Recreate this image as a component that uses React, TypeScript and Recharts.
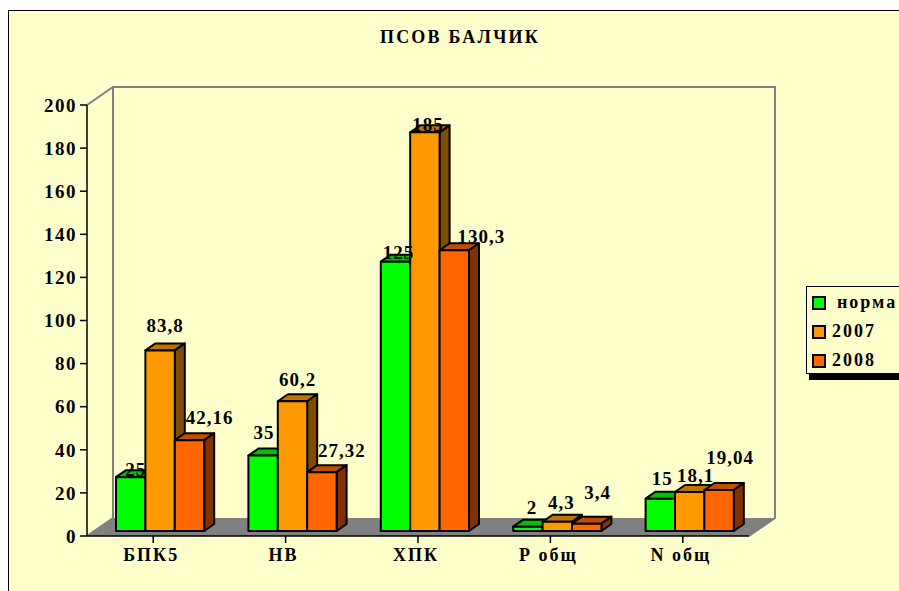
import { BarChart, Bar, XAxis, YAxis, LabelList, Legend } from 'recharts';

const categories = ['БПК5', 'НВ', 'ХПК', 'Р общ', 'N общ'];
const norma = [25, 35, 125, 2, 15];
const y2007 = [83.8, 60.2, 185, 4.3, 18.1];
const y2008 = [42.16, 27.32, 130.3, 3.4, 19.04];
const yTicks = [0, 20, 40, 60, 80, 100, 120, 140, 160, 180, 200];

const chartData = categories.map((name, i) => ({
  name,
  norma: norma[i],
  y2007: y2007[i],
  y2008: y2008[i],
}));

const FONT = '"Liberation Serif", "Times New Roman", serif';
const LEFT = 87;
const RIGHT = 749;
const TOP = 105;
const BOTTOM = 536;
const DEPTH_X = 26;
const DEPTH_Y = 18;
// bars stand a little way back on the floor
const BAR_DX = 7;
const BAR_DY = -5;
const BAR_DEPTH_X = 10;
const BAR_DEPTH_Y = 7;
const LEGEND_WIDTH = 93;

// hand placed data labels in the original: [dx, dy] from the bar's top centre
const nudgeNorma = [[5, -9], [1, -24], [3, -10], [4, -20], [2, -21]];
const nudge2007 = [[5, -26], [5, -23], [3, -9], [4, -20], [6, -17]];
const nudge2008 = [[20, -24], [20, -23], [27, -15], [11, -32], [11, -33]];

function Walls() {
  const wall = '#808080';
  return (
    <g>
      <polygon
        points={`${LEFT},${BOTTOM} ${LEFT + DEPTH_X},${BOTTOM - DEPTH_Y} ${RIGHT + DEPTH_X},${BOTTOM - DEPTH_Y} ${RIGHT},${BOTTOM}`}
        fill={wall}
      />
      <polyline
        points={`${LEFT},${TOP} ${LEFT + DEPTH_X},${TOP - DEPTH_Y} ${RIGHT + DEPTH_X},${TOP - DEPTH_Y} ${RIGHT + DEPTH_X},${BOTTOM - DEPTH_Y} ${RIGHT},${BOTTOM}`}
        fill="none"
        stroke={wall}
        strokeWidth={2}
      />
      <line x1={LEFT + DEPTH_X} y1={TOP - DEPTH_Y} x2={LEFT + DEPTH_X} y2={BOTTOM - DEPTH_Y} stroke={wall} strokeWidth={2} />
      <line x1={LEFT} y1={BOTTOM} x2={LEFT + DEPTH_X} y2={BOTTOM - DEPTH_Y} stroke={wall} strokeWidth={2} />
    </g>
  );
}

function box3d(front: string, top: string, side: string) {
  return (props: any) => {
    const { width: w } = props;
    const x = props.x + BAR_DX;
    const y = props.y + BAR_DY;
    const h = props.height;
    return (
      <g stroke="#000" strokeWidth={2} strokeLinejoin="round">
        <polygon
          points={`${x},${y} ${x + BAR_DEPTH_X},${y - BAR_DEPTH_Y} ${x + w + BAR_DEPTH_X},${y - BAR_DEPTH_Y} ${x + w},${y}`}
          fill={top}
        />
        <polygon
          points={`${x + w},${y} ${x + w + BAR_DEPTH_X},${y - BAR_DEPTH_Y} ${x + w + BAR_DEPTH_X},${y + h - BAR_DEPTH_Y} ${x + w},${y + h}`}
          fill={side}
        />
        <rect x={x} y={y} width={w} height={h} fill={front} />
      </g>
    );
  };
}

function valueLabel(nudges: number[][]) {
  return (props: any) => {
    const { x, y, width, value, index } = props;
    const [dx, dy] = nudges[index];
    return (
      <text
        x={x + BAR_DX + width / 2 + dx}
        y={y + BAR_DY + dy + 1}
        textAnchor="middle"
        dominantBaseline="central"
        fontFamily={FONT}
        fontWeight="bold"
        fontSize={19}
        letterSpacing={1}
        fill="#000"
      >
        {String(value).replace('.', ',')}
      </text>
    );
  };
}

function LegendBox(props: any) {
  const { payload } = props;
  return (
    <div
      style={{
        width: 200,
        height: 88,
        boxSizing: 'border-box',
        border: '1px solid #000',
        boxShadow: '3px 6px 0 #000',
        background: '#FFFFCC',
        paddingTop: 1,
        fontFamily: FONT,
        fontWeight: 'bold',
        fontSize: 18,
        letterSpacing: 2,
        color: '#000',
      }}
    >
      {(payload || []).map((item: any, i: number) => (
        <div key={item.value} style={{ display: 'flex', alignItems: 'center', height: 29, paddingLeft: 6 }}>
          <span
            style={{
              width: 12,
              height: 12,
              boxSizing: 'border-box',
              background: item.color,
              border: '1px solid #000',
              outline: '0.5px solid #000',
              marginRight: i === 0 ? 12 : 7,
              display: 'inline-block',
            }}
          />
          {item.value}
        </div>
      ))}
    </div>
  );
}

export default function App() {
  return (
    <div style={{ position: 'absolute', left: 0, top: 0, width: 899, height: 591, overflow: 'hidden', background: '#fff' }}>
      <div
        style={{
          position: 'absolute',
          left: 8,
          top: 10,
          width: 900,
          height: 590,
          background: '#FFFFCC',
          borderLeft: '1px solid #000',
          borderTop: '1px solid #000',
        }}
      />
      <div
        style={{
          position: 'absolute',
          left: 0,
          top: 27,
          width: 920,
          textAlign: 'center',
          fontFamily: FONT,
          fontWeight: 'bold',
          fontSize: 18,
          letterSpacing: 2.2,
          lineHeight: '20px',
        }}
      >
        ПСОВ БАЛЧИК
      </div>
      <div style={{ position: 'absolute', left: 0, top: 0 }}>
        <BarChart
          width={899}
          height={591}
          data={chartData}
          margin={{ top: TOP, bottom: 591 - BOTTOM - 40, left: LEFT - 60, right: 899 - RIGHT - LEGEND_WIDTH }}
          barSize={29.4}
          barGap={0}
        >
          <Walls />
          <XAxis
            dataKey="name"
            axisLine={{ stroke: '#000', strokeWidth: 1.5 }}
            tickLine={{ stroke: '#000', strokeWidth: 1.5 }}
            tickSize={7}
            height={40}
            interval={0}
            tick={{ fontFamily: FONT, fontWeight: 'bold', fontSize: 18, letterSpacing: 2, fill: '#000', dx: -2 }}
            tickMargin={5}
          />
          <YAxis
            domain={[0, 200]}
            ticks={yTicks}
            width={60}
            axisLine={{ stroke: '#000', strokeWidth: 1.5 }}
            tickLine={{ stroke: '#000', strokeWidth: 1.5 }}
            tickSize={7}
            tickMargin={3}
            tick={{ fontFamily: FONT, fontWeight: 'bold', fontSize: 19, letterSpacing: 1.5, fill: '#000' }}
          />
          <Legend
            layout="vertical"
            align="right"
            verticalAlign="middle"
            itemSorter={null}
            content={LegendBox}
            wrapperStyle={{ position: 'absolute', left: 806, top: 286, right: 'auto', width: LEGEND_WIDTH, height: 96, margin: 0, overflow: 'hidden' }}
          />
          <Bar dataKey="norma" name="норма" fill="#00FF00" isAnimationActive={false} shape={box3d('#00FF00', '#00C000', '#008000')}>
            <LabelList dataKey="norma" content={valueLabel(nudgeNorma)} />
          </Bar>
          <Bar dataKey="y2007" name="2007" fill="#FF9900" isAnimationActive={false} shape={box3d('#FF9900', '#C07300', '#804D00')}>
            <LabelList dataKey="y2007" content={valueLabel(nudge2007)} />
          </Bar>
          <Bar dataKey="y2008" name="2008" fill="#FF6600" isAnimationActive={false} shape={box3d('#FF6600', '#C04D00', '#803300')}>
            <LabelList dataKey="y2008" content={valueLabel(nudge2008)} />
          </Bar>
        </BarChart>
      </div>
    </div>
  );
}
